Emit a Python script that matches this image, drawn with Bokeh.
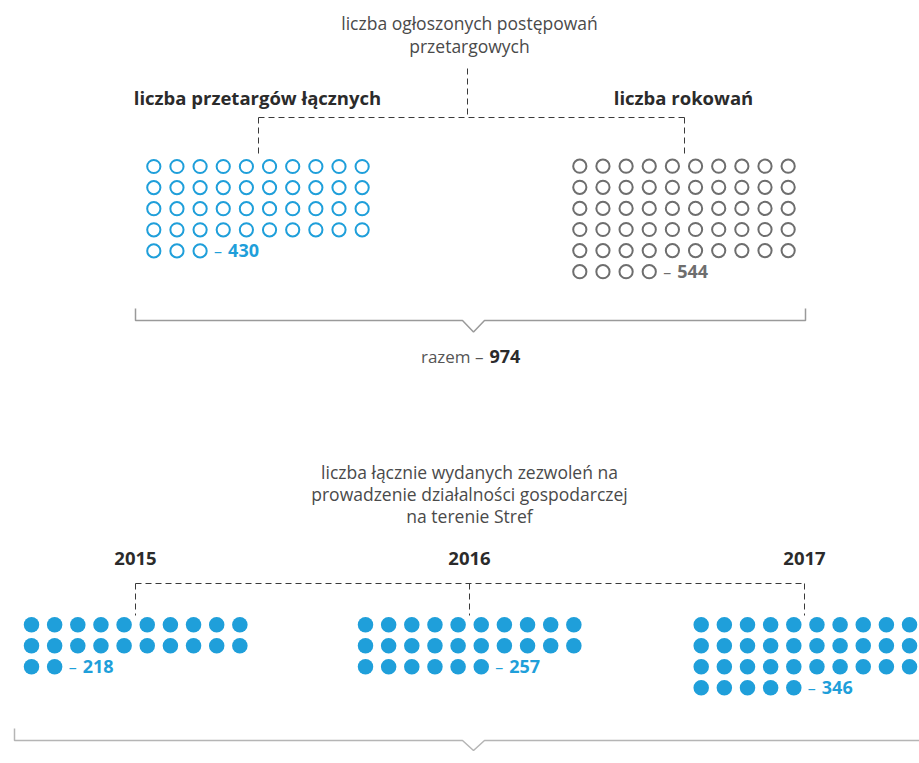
from bokeh.plotting import figure
from bokeh.models import Range1d
from bokeh.core.properties import value
from bokeh.embed import file_html
from bokeh.resources import INLINE

# ---------------- data ----------------
top_title = ["liczba ogłoszonych postępowań", "przetargowych"]
top_groups = ["liczba przetargów łącznych", "liczba rokowań"]
top_values = [430, 544]
top_total_label = "razem –"
top_total = 974

bottom_title = ["liczba łącznie wydanych zezwoleń na",
                "prowadzenie działalności gospodarczej",
                "na terenie Stref"]
bottom_years = ["2015", "2016", "2017"]
bottom_values = [218, 257, 346]

UNIT = 10      # one dot = 10
PER_ROW = 10

# ---------------- style ----------------
FONT = value("Open Sans")
BLUE = "#1f9fda"
GREY = "#6e6e6e"
TXT = "#4a4a4a"
DARK = "#2b2b2b"
DASH = "#3a3a3a"
BRACKET = "#9a9a9a"

W, H = 919, 760
p = figure(width=W, height=H, x_range=Range1d(0, W), y_range=Range1d(H, 0),
           output_backend="svg", toolbar_location=None, min_border=0,
           x_axis_type=None, y_axis_type=None)
p.outline_line_color = None
p.grid.visible = False
p.background_fill_color = "white"


def txt(x, y, s, size, color, bold=False, align="center"):
    p.text(x=[x], y=[y], text=[s], text_font=FONT, text_font_size=f"{size}px",
           text_font_style="bold" if bold else "normal", text_color=color,
           text_align=align, text_baseline="middle")


def dots(x0, y0, val, dx, dy, color, filled, lab_color):
    n = round(val / UNIT)
    xs = [x0 + (i % PER_ROW) * dx for i in range(n)]
    ys = [y0 + (i // PER_ROW) * dy for i in range(n)]
    if filled:
        p.scatter(xs, ys, size=15.5, marker="circle", fill_color=color, line_color=None)
    else:
        p.scatter(xs, ys, size=13.2, marker="circle", fill_color=None,
                  line_color=color, line_width=2)
    lx, ly = xs[-1], ys[-1]
    txt(lx + 14, ly, "–", 16, lab_color, align="left")
    p.text(x=[lx + 28], y=[ly], text=[str(val)], text_font=FONT, text_font_size="18px",
           text_font_style="bold", text_color=color, text_align="left",
           text_baseline="middle")


# ---------------- top block ----------------
txt(469, 22, top_title[0], 17.5, TXT)
txt(469, 45, top_title[1], 17.5, TXT)
txt(257, 97, top_groups[0], 18.5, DARK, bold=True)
txt(683, 97, top_groups[1], 18.5, DARK, bold=True)

p.line([467, 467], [68, 117], line_color=DASH, line_width=1, line_dash="6 4")
p.line([258, 684], [117, 117], line_color=DASH, line_width=1, line_dash="6 4")
p.line([258, 258], [117, 154], line_color=DASH, line_width=1, line_dash="6 4")
p.line([684, 684], [117, 154], line_color=DASH, line_width=1, line_dash="6 4")

dots(153.3, 166, top_values[0], 23.15, 21.1, BLUE, False, BLUE)
dots(579.3, 165.7, top_values[1], 23.15, 21.1, GREY, False, GREY)

p.line([135, 135, 462, 473, 484, 805, 805], [308, 320, 320, 331.5, 320, 320, 308],
       line_color=BRACKET, line_width=1.5)
txt(483, 356, top_total_label, 17, "#555555", align="right")
txt(489, 356, str(top_total), 18, DARK, bold=True, align="left")

# ---------------- bottom block ----------------
for i, s in enumerate(bottom_title):
    txt(469, 471 + 22 * i, s, 17.5, TXT)

year_x = [135, 469, 804]
for x, yr in zip(year_x, bottom_years):
    txt(x, 558, yr, 18.5, DARK, bold=True)

p.line([135, 804], [583, 583], line_color=DASH, line_width=1, line_dash="6 4")
for x in year_x:
    p.line([x, x], [583, 615], line_color=DASH, line_width=1, line_dash="6 4")

starts = [31, 365, 700.7]
for x0, v in zip(starts, bottom_values):
    dots(x0, 624.3, v, 23.15, 21, BLUE, True, BLUE)

p.line([14, 14, 462, 473, 484, 919], [728, 740, 740, 750, 740, 740],
       line_color="#b5b5b5", line_width=1.5)

open("out.html", "w").write(file_html(p, INLINE))
